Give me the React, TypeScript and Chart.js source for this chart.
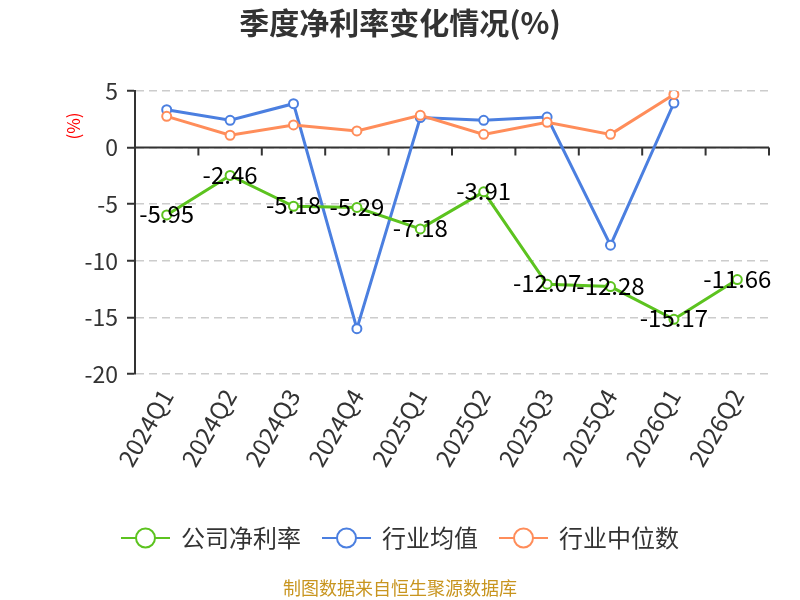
import React, { useEffect, useRef } from "react";
import { Chart, registerables } from "chart.js";

Chart.register(...registerables);

const categories = ["2024Q1", "2024Q2", "2024Q3", "2024Q4", "2025Q1", "2025Q2", "2025Q3", "2025Q4", "2026Q1", "2026Q2"];
const companyNetMargin = [-5.95, -2.46, -5.18, -5.29, -7.18, -3.91, -12.07, -12.28, -15.17, -11.66];
const industryMean = [3.35, 2.41, 3.88, -16.0, 2.65, 2.41, 2.7, -8.62, 3.94];
const industryMedian = [2.76, 1.09, 2.0, 1.47, 2.85, 1.17, 2.23, 1.17, 4.7];
const seriesNames = ["公司净利率", "行业均值", "行业中位数"];
const seriesColors = ["#5cc31f", "#4b7fe0", "#ff8d5a"];
const yMin = -20;
const yMax = 5;
const yStep = 5;
const titleText = "季度净利率变化情况(%)";
const yUnitText = "(%)";
const footerText = "制图数据来自恒生聚源数据库";

const FONT = '"Noto Sans CJK SC", "Noto Sans", sans-serif';

const decorPlugin = {
  id: "decor",
  beforeDatasetsDraw(chart: any) {
    const { ctx, chartArea, scales } = chart;
    const x = scales.x;
    const y = scales.y;
    const y0 = y.getPixelForValue(0);
    const half = (x.getPixelForValue(1) - x.getPixelForValue(0)) / 2;
    ctx.save();
    ctx.strokeStyle = "#333";
    ctx.lineWidth = 2;
    ctx.beginPath();
    ctx.moveTo(chartArea.left, y0);
    ctx.lineTo(chartArea.right, y0);
    for (let i = 0; i <= categories.length; i++) {
      const px = x.getPixelForValue(i) - half;
      ctx.moveTo(px, y0);
      ctx.lineTo(px, y0 + 8);
    }
    ctx.stroke();
    ctx.restore();
  },
  afterDatasetsDraw(chart: any) {
    const { ctx } = chart;
    const meta = chart.getDatasetMeta(0);
    ctx.save();
    ctx.fillStyle = "#000";
    ctx.font = `24px ${FONT}`;
    ctx.textAlign = "center";
    ctx.textBaseline = "middle";
    meta.data.forEach((pt: any, i: number) => {
      ctx.fillText(companyNetMargin[i].toFixed(2), pt.x, pt.y - 1);
    });
    ctx.restore();
  },
  afterDraw(chart: any) {
    const { ctx } = chart;
    const W = chart.width;
    ctx.save();
    // title
    ctx.fillStyle = "#333";
    ctx.font = `bold 30px ${FONT}`;
    ctx.textAlign = "center";
    ctx.textBaseline = "middle";
    ctx.fillText(titleText, W / 2, 23);
    // y unit
    ctx.save();
    ctx.translate(73.5, 126);
    ctx.rotate(-Math.PI / 2);
    ctx.fillStyle = "#ff0000";
    ctx.font = `17px ${FONT}`;
    ctx.fillText(yUnitText, 0, 0);
    ctx.restore();
    // legend
    ctx.font = `24px ${FONT}`;
    const markerW = 49;
    const gapText = 11;
    const gapItem = 21;
    const widths = seriesNames.map((n) => ctx.measureText(n).width);
    const total = widths.reduce((a, w) => a + markerW + gapText + w, 0) + gapItem * (seriesNames.length - 1);
    let sx = W / 2 - total / 2;
    const ly = 538;
    seriesNames.forEach((name, i) => {
      ctx.strokeStyle = seriesColors[i];
      ctx.lineWidth = 2;
      ctx.beginPath();
      ctx.moveTo(sx, ly);
      ctx.lineTo(sx + markerW, ly);
      ctx.stroke();
      ctx.beginPath();
      ctx.arc(sx + markerW / 2, ly, 9.5, 0, Math.PI * 2);
      ctx.fillStyle = "#fff";
      ctx.fill();
      ctx.stroke();
      ctx.fillStyle = "#333";
      ctx.textAlign = "left";
      ctx.fillText(name, sx + markerW + gapText, ly);
      sx += markerW + gapText + widths[i] + gapItem;
    });
    // footer
    ctx.fillStyle = "#c8951f";
    ctx.font = `18px ${FONT}`;
    ctx.textAlign = "center";
    ctx.fillText(footerText, W / 2, 588);
    ctx.restore();
  },
};

export default function App() {
  const ref = useRef<HTMLCanvasElement>(null);
  useEffect(() => {
    if (!ref.current) return;
    const series = [companyNetMargin, industryMean, industryMedian];
    const orders = [0, 2, 1];
    const chart = new Chart(ref.current, {
      type: "line",
      data: {
        labels: categories,
        datasets: series.map((d, i) => ({
          label: seriesNames[i],
          data: d,
          borderColor: seriesColors[i],
          backgroundColor: "#fff",
          borderWidth: 3,
          pointRadius: 4.5,
          pointBorderWidth: 2,
          pointBackgroundColor: "#fff",
          pointBorderColor: seriesColors[i],
          tension: 0,
          order: orders[i],
        })),
      },
      options: {
        animation: false,
        responsive: false,
        devicePixelRatio: 1,
        layout: { padding: { top: 91, right: 31, left: 0, bottom: 0 } },
        plugins: {
          legend: { display: false },
          tooltip: { enabled: false },
          title: { display: false },
        },
        scales: {
          x: {
            type: "category",
            offset: true,
            grid: { display: false, drawTicks: false },
            border: { display: false },
            ticks: {
              minRotation: 60,
              maxRotation: 60,
              autoSkip: false,
              padding: 10,
              color: "#333",
              font: { size: 24, family: FONT },
            },
            afterFit(scale: any) {
              scale.height = 226;
            },
          },
          y: {
            min: yMin,
            max: yMax,
            ticks: {
              stepSize: yStep,
              color: "#333",
              padding: 9,
              font: { size: 23, family: FONT },
            },
            grid: {
              color: "#cccccc",
              lineWidth: 1.5,
              drawTicks: true,
              tickLength: 8,
              tickColor: "#333",
              tickWidth: 2,
              tickBorderDash: [],
            },
            border: { display: true, color: "#333", width: 2, dash: [8, 5] },
            afterFit(scale: any) {
              scale.width = 135;
            },
          },
        },
      },
      plugins: [decorPlugin],
    } as any);
    return () => chart.destroy();
  }, []);
  return (
    <div style={{ position: "absolute", left: 0, top: 0, width: 800, height: 600, background: "#fff" }}>
      <canvas ref={ref} width={800} height={600} style={{ width: 800, height: 600, display: "block" }} />
    </div>
  );
}
